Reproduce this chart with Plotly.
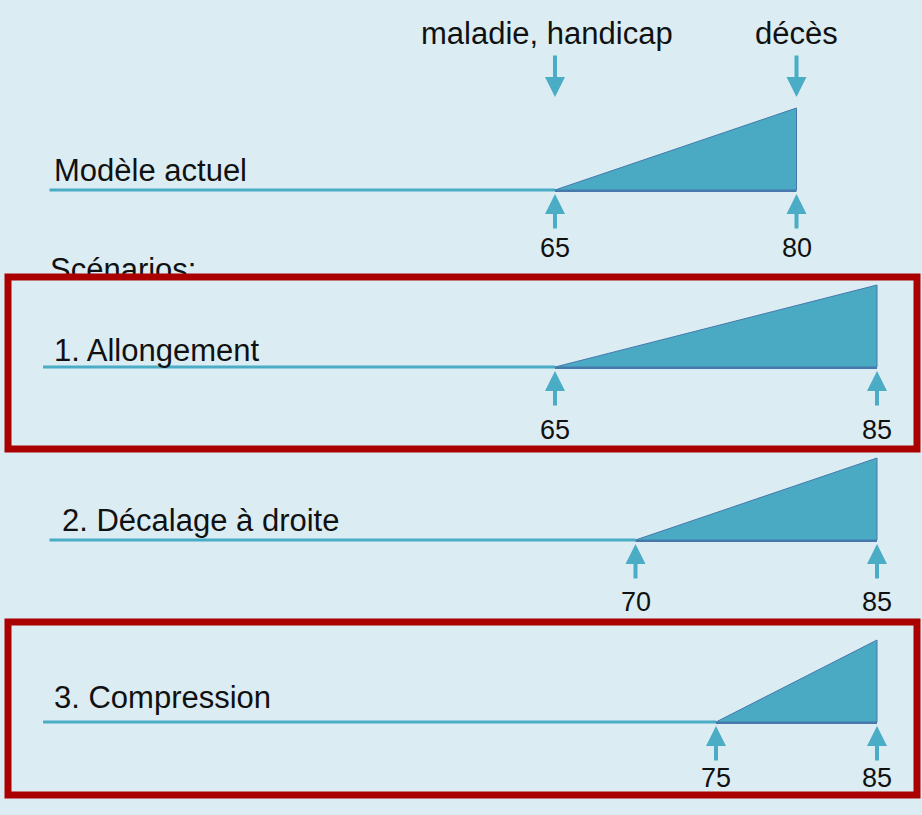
import plotly.graph_objects as go

# scenarios of the life course: healthy years, then illness/handicap until death
rows = ["Modèle actuel", "1. Allongement", "2. Décalage à droite", "3. Compression"]
onset_age = [65, 65, 70, 75]
death_age = [80, 85, 85, 85]
start_age = [33.6, 33.2, 33.6, 33.2]
top_labels = ["maladie, handicap", "décès"]
section_label = "Scénarios:"

W, H = 922, 815
PX_PER_YEAR = 16.1
AGE_AT_0 = 491.5 / PX_PER_YEAR  # age that falls on the left edge

BG = "#DBEDF3"
BLUE = "#4BACC6"
FILL = "#4AAAC4"
EDGE = "#4679AB"
RED = "#AA0000"
FONT = "Liberation Sans, Arial, sans-serif"

base_y = [190, 367, 540, 722]
label_y = [170, 350, 520, 697]
num_y = [248, 430, 602, 778]
label_x = [52, 52, 60, 52]
tri_h = 82

fig = go.Figure()
annotations = []

for i, name in enumerate(rows):
    y0 = base_y[i]
    # healthy part of life
    fig.add_trace(go.Scatter(
        x=[start_age[i], onset_age[i]], y=[y0, y0], mode="lines",
        line={"color": BLUE, "width": 3}, hoverinfo="skip", showlegend=False,
    ))
    # illness / handicap wedge
    fig.add_trace(go.Scatter(
        x=[onset_age[i], death_age[i], death_age[i], onset_age[i]],
        y=[y0, y0, y0 - tri_h, y0], mode="lines", fill="toself",
        fillcolor=FILL, line={"color": EDGE, "width": 1},
        hoverinfo="skip", showlegend=False,
    ))
    fig.add_trace(go.Scatter(
        x=[onset_age[i], death_age[i]], y=[y0 + 1, y0 + 1], mode="lines",
        line={"color": EDGE, "width": 2}, hoverinfo="skip", showlegend=False,
    ))
    annotations.append(dict(
        x=label_x[i] / W, xref="paper", y=label_y[i], yref="y", text=name,
        showarrow=False, xanchor="left", yanchor="middle",
        font={"size": 31, "color": "#111111"},
    ))
    for age in (onset_age[i], death_age[i]):
        annotations.append(dict(
            x=age, y=y0 + 4, xref="x", yref="y", ax=age, ay=y0 + 40,
            axref="x", ayref="y", text="", showarrow=True, arrowhead=2,
            arrowsize=1.0, arrowwidth=4, arrowcolor=BLUE,
        ))
        annotations.append(dict(
            x=age, y=num_y[i], xref="x", yref="y", text=str(age),
            showarrow=False, xanchor="center", yanchor="middle",
            font={"size": 27, "color": "#111111"},
        ))

# top labels with arrows pointing down at onset and death of the current model
for text, age, dx in zip(top_labels, [onset_age[0], death_age[0]], [-8, 0]):
    annotations.append(dict(
        x=age, y=33, xref="x", yref="y", text=text, showarrow=False,
        xanchor="center", yanchor="middle", xshift=dx,
        font={"size": 31, "color": "#111111"},
    ))
    annotations.append(dict(
        x=age, y=97, xref="x", yref="y", ax=age, ay=54, axref="x", ayref="y",
        text="", showarrow=True, arrowhead=2, arrowsize=1.0, arrowwidth=4,
        arrowcolor=BLUE,
    ))

# section title drawn as a trace so the red frame passes over it
fig.add_trace(go.Scatter(
    x=[AGE_AT_0 + 50 / PX_PER_YEAR], y=[272], mode="text", text=[section_label],
    textposition="middle right", textfont={"size": 31, "color": "#111111"},
    hoverinfo="skip", showlegend=False,
))

shapes = []
for yt, yb in [(277, 449), (622, 795)]:
    shapes.append(dict(
        type="rect", xref="paper", yref="y", x0=8 / W, x1=917 / W, y0=yt, y1=yb,
        line={"color": RED, "width": 7}, fillcolor="rgba(0,0,0,0)", layer="above",
    ))

fig.update_layout(
    width=W, height=H,
    margin={"l": 0, "r": 0, "t": 0, "b": 0},
    paper_bgcolor=BG, plot_bgcolor=BG,
    font={"family": FONT},
    xaxis={"range": [AGE_AT_0, AGE_AT_0 + W / PX_PER_YEAR], "visible": False,
           "fixedrange": True},
    yaxis={"range": [H, 0], "visible": False, "fixedrange": True},
    annotations=annotations,
    shapes=shapes,
    showlegend=False,
)

fig.write_html(
    "out.html",
    config={"displayModeBar": False},
    post_script="document.body.style.margin='0';",
)
